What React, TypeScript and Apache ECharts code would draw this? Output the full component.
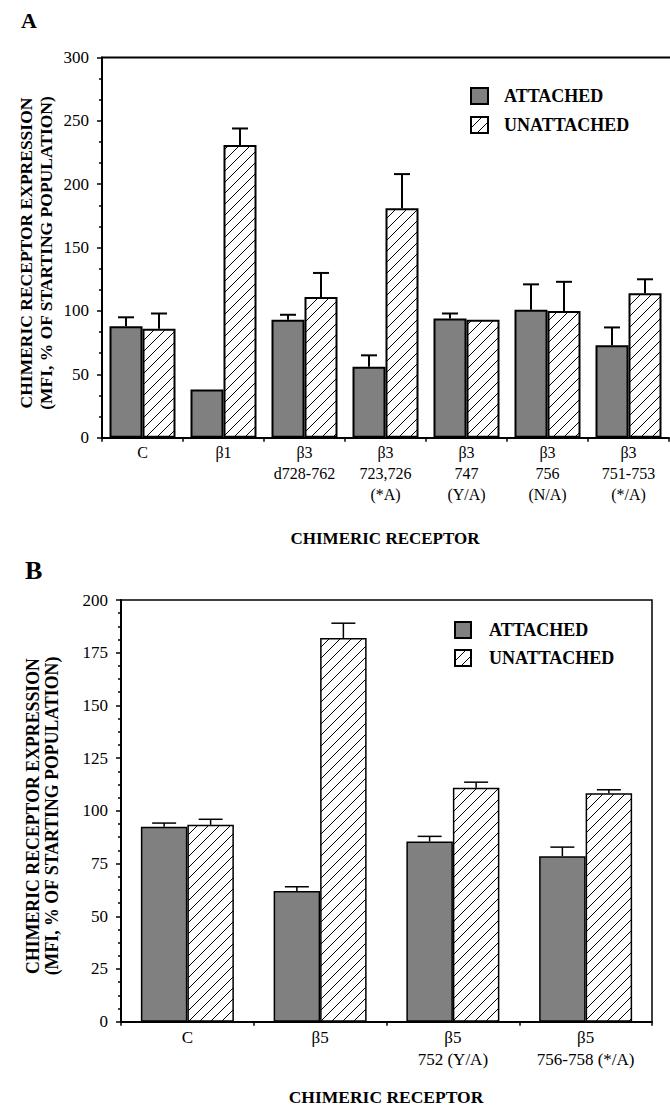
import React, { useEffect, useRef } from "react";
import * as echarts from "echarts";

// Panel A data
const categoriesA = ["C", "β1", "β3\nd728-762", "β3\n723,726\n(*A)", "β3\n747\n(Y/A)", "β3\n756\n(N/A)", "β3\n751-753\n(*/A)"];
const attachedA = [88, 38, 93, 56, 94, 101, 73];
const attachedErrA = [7, 0, 4, 9, 4, 20, 14];
const unattachedA = [86, 231, 111, 181, 93, 100, 114];
const unattachedErrA = [12, 13, 19, 27, 0, 23, 11];
const yTicksA = { min: 0, max: 300, interval: 50 };

// Panel B data
const categoriesB = ["C", "β5", "β5\n752 (Y/A)", "β5\n756-758 (*/A)"];
const attachedB = [92.5, 62, 85.5, 78.5];
const attachedErrB = [1.7, 2, 2.4, 4.3];
const unattachedB = [93.4, 182, 111, 108.4];
const unattachedErrB = [2.6, 7, 2.6, 1.6];
const yTicksB = { min: 0, max: 200, interval: 25 };

const FONT = "'Liberation Serif', 'Times New Roman', serif";

function makeHatch() {
  const s = 11;
  const c = document.createElement("canvas");
  c.width = s;
  c.height = s;
  const g = c.getContext("2d")!;
  g.fillStyle = "#fff";
  g.fillRect(0, 0, s, s);
  g.strokeStyle = "#000";
  g.lineWidth = 1;
  g.beginPath();
  g.moveTo(0, s);
  g.lineTo(s, 0);
  g.moveTo(-2, 2);
  g.lineTo(2, -2);
  g.moveTo(s - 2, s + 2);
  g.lineTo(s + 2, s - 2);
  g.stroke();
  return c;
}

function errSeries(name: string, axis: number, vals: number[], errs: number[], side: number, barW: number, capW: number, lw: number) {
  return {
    type: "custom",
    name,
    xAxisIndex: axis,
    yAxisIndex: axis,
    z: 5,
    data: vals.map((v, i) => [i, v, errs[i]]),
    renderItem: (params: any, api: any) => {
      const i = api.value(0);
      const v = api.value(1);
      const e = api.value(2);
      if (!e) return null;
      const base = api.coord([i, v]);
      const top = api.coord([i, v + e]);
      const x = base[0] + (side * barW) / 2;
      const st = { stroke: "#000", lineWidth: lw };
      return {
        type: "group",
        children: [
          { type: "line", shape: { x1: x, y1: base[1], x2: x, y2: top[1] }, style: st },
          { type: "line", shape: { x1: x - capW / 2, y1: top[1], x2: x + capW / 2, y2: top[1] }, style: st },
        ],
      };
    },
  };
}

export default function App() {
  const ref = useRef<HTMLDivElement>(null);
  useEffect(() => {
    if (!ref.current) return;
    const chart = echarts.init(ref.current, null, { renderer: "svg" });
    const hatch = makeHatch();
    const pattern = { image: hatch, repeat: "repeat" };
    const barWA = 33;
    const barWB = 46.5;

    const axisLabelBase = { color: "#000", fontFamily: FONT };

    const option: any = {
      animation: false,
      backgroundColor: "#fff",
      grid: [
        { left: 102, top: 57.5, width: 567, height: 380.2, show: false },
        { left: 121, top: 600, width: 531, height: 421.7, show: true, borderColor: "#000", borderWidth: 1.5, backgroundColor: "transparent" },
      ],
      xAxis: [
        {
          type: "category",
          gridIndex: 0,
          data: categoriesA,
          axisLine: { lineStyle: { color: "#000", width: 2 } },
          axisTick: { show: true, length: 4, lineStyle: { color: "#000", width: 1.5 } },
          axisLabel: { ...axisLabelBase, fontSize: 16, lineHeight: 21, margin: 4, interval: 0 },
        },
        {
          type: "category",
          gridIndex: 1,
          data: categoriesB,
          axisLine: { lineStyle: { color: "#000", width: 2 } },
          axisTick: { show: true, length: 4, lineStyle: { color: "#000", width: 1.5 } },
          axisLabel: { ...axisLabelBase, fontSize: 17, lineHeight: 22, margin: 5, interval: 0 },
        },
      ],
      yAxis: [
        {
          type: "value",
          gridIndex: 0,
          min: yTicksA.min,
          max: yTicksA.max,
          interval: yTicksA.interval,
          axisLine: { show: true, lineStyle: { color: "#000", width: 2 } },
          axisTick: { show: true, length: 5, lineStyle: { color: "#000", width: 1.5 } },
          minorTick: { show: true, splitNumber: 3, length: 3, lineStyle: { color: "#000", width: 1.5 } },
          splitLine: { show: false },
          axisLabel: { ...axisLabelBase, fontSize: 17, margin: 13 },
        },
        {
          type: "value",
          gridIndex: 1,
          min: yTicksB.min,
          max: yTicksB.max,
          interval: yTicksB.interval,
          axisLine: { show: true, lineStyle: { color: "#000", width: 2 } },
          axisTick: { show: true, length: 5, lineStyle: { color: "#000", width: 1.5 } },
          minorTick: { show: true, splitNumber: 4, length: 3, lineStyle: { color: "#000", width: 1.5 } },
          splitLine: { show: false },
          axisLabel: { ...axisLabelBase, fontSize: 17, margin: 13 },
        },
      ],
      legend: [
        {
          data: ["ATTACHED", "UNATTACHED"],
          orient: "vertical",
          left: 465,
          top: 82,
          itemWidth: 17,
          itemHeight: 16,
          itemGap: 11,
          icon: "rect",
          selectedMode: false,
          textStyle: { color: "#000", fontFamily: FONT, fontWeight: "bold", fontSize: 18, lineHeight: 16, padding: [0, 0, 0, 11] },
        },
        {
          data: ["ATTACHED", "UNATTACHED"],
          orient: "vertical",
          left: 449,
          top: 616,
          itemWidth: 16,
          itemHeight: 16,
          itemGap: 10,
          icon: "rect",
          selectedMode: false,
          textStyle: { color: "#000", fontFamily: FONT, fontWeight: "bold", fontSize: 18, lineHeight: 16, padding: [0, 0, 0, 13] },
        },
      ],
      series: [
        {
          type: "bar",
          name: "ATTACHED",
          xAxisIndex: 0,
          yAxisIndex: 0,
          data: attachedA,
          barWidth: barWA,
          barGap: "0%",
          itemStyle: { color: "#808080", borderColor: "#000", borderWidth: 2 },
        },
        {
          type: "bar",
          name: "UNATTACHED",
          xAxisIndex: 0,
          yAxisIndex: 0,
          data: unattachedA,
          barWidth: barWA,
          barGap: "0%",
          itemStyle: { color: pattern, borderColor: "#000", borderWidth: 2 },
        },
        errSeries("errA1", 0, attachedA, attachedErrA, -1, barWA, 16, 2),
        errSeries("errA2", 0, unattachedA, unattachedErrA, 1, barWA, 16, 2),
        {
          type: "bar",
          name: "ATTACHED",
          xAxisIndex: 1,
          yAxisIndex: 1,
          data: attachedB,
          barWidth: barWB,
          barGap: "0%",
          itemStyle: { color: "#808080", borderColor: "#000", borderWidth: 1.5 },
        },
        {
          type: "bar",
          name: "UNATTACHED",
          xAxisIndex: 1,
          yAxisIndex: 1,
          data: unattachedB,
          barWidth: barWB,
          barGap: "0%",
          itemStyle: { color: pattern, borderColor: "#000", borderWidth: 1.5 },
        },
        errSeries("errB1", 1, attachedB, attachedErrB, -1, barWB, 24, 1.5),
        errSeries("errB2", 1, unattachedB, unattachedErrB, 1, barWB, 24, 1.5),
      ],
      graphic: [
        // top border of panel A
        { type: "line", shape: { x1: 101, y1: 57.5, x2: 670, y2: 57.5 }, style: { stroke: "#000", lineWidth: 2 }, z: 10 },
        { type: "text", left: 21, top: 9, style: { text: "A", font: `bold 22px ${FONT}`, fill: "#000" } },
        { type: "text", left: 25, top: 557, style: { text: "B", font: `bold 26px ${FONT}`, fill: "#000" } },
        {
          type: "text", x: 26, y: 253, rotation: Math.PI / 2,
          style: { text: "CHIMERIC RECEPTOR EXPRESSION", font: `bold 17.5px ${FONT}`, fill: "#000", align: "center", verticalAlign: "middle" },
        },
        {
          type: "text", x: 46, y: 253, rotation: Math.PI / 2,
          style: { text: "(MFI, % OF STARTING POPULATION)", font: `bold 17.5px ${FONT}`, fill: "#000", align: "center", verticalAlign: "middle" },
        },
        {
          type: "text", x: 385, y: 538,
          style: { text: "CHIMERIC RECEPTOR", font: `bold 17px ${FONT}`, fill: "#000", align: "center", verticalAlign: "middle" },
        },
        {
          type: "text", x: 33, y: 816, rotation: Math.PI / 2,
          style: { text: "CHIMERIC RECEPTOR EXPRESSION", font: `bold 17.8px ${FONT}`, fill: "#000", align: "center", verticalAlign: "middle" },
        },
        {
          type: "text", x: 52, y: 816, rotation: Math.PI / 2,
          style: { text: "(MFI, % OF STARTING POPULATION)", font: `bold 17.8px ${FONT}`, fill: "#000", align: "center", verticalAlign: "middle" },
        },
        {
          type: "text", x: 386, y: 1097,
          style: { text: "CHIMERIC RECEPTOR", font: `bold 17.5px ${FONT}`, fill: "#000", align: "center", verticalAlign: "middle" },
        },
      ],
    };
    chart.setOption(option);
    return () => chart.dispose();
  }, []);
  return <div ref={ref} style={{ position: "fixed", left: 0, top: 0, width: 670, height: 1107, background: "#fff" }} />;
}
